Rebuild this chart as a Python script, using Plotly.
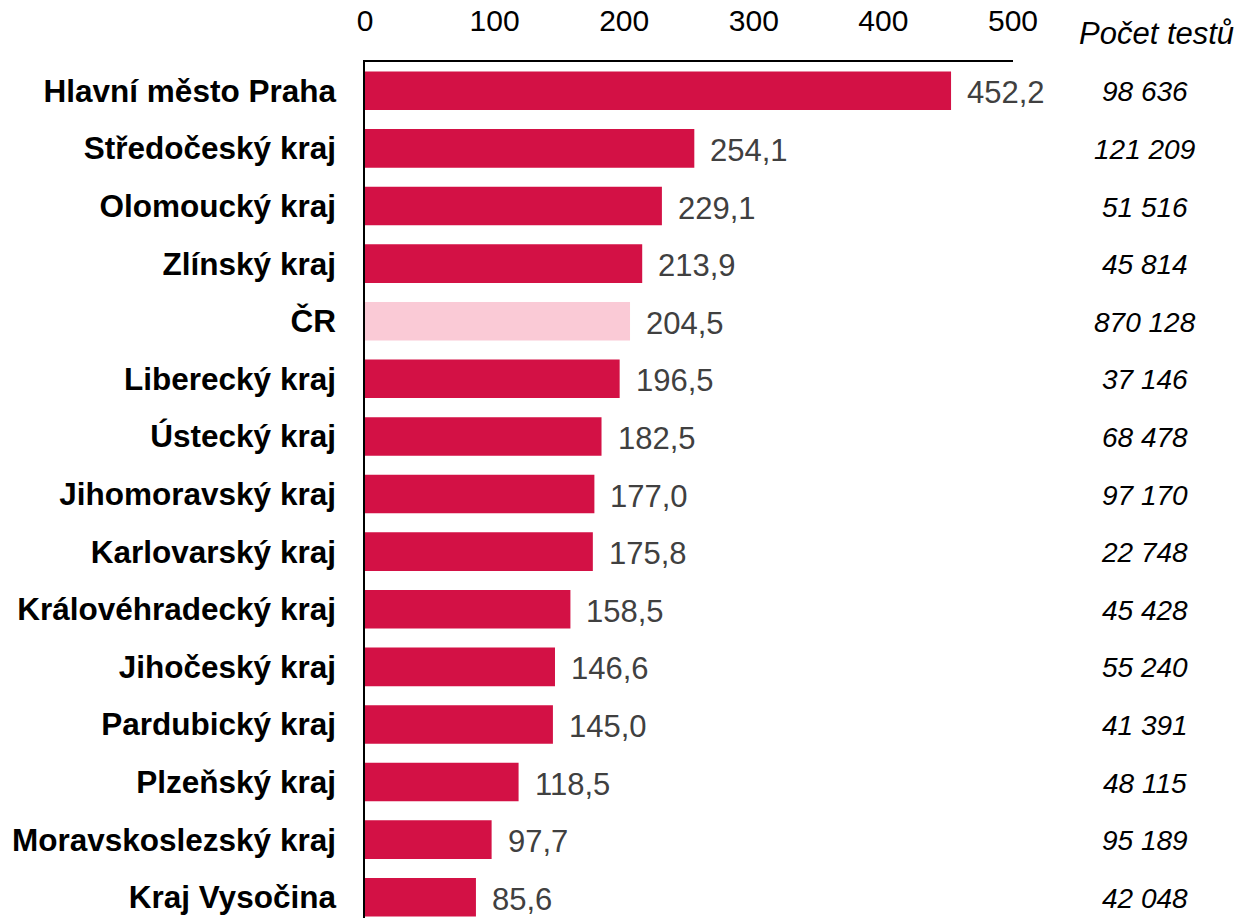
import plotly.graph_objects as go

regions = ["Hlavní město Praha", "Středočeský kraj", "Olomoucký kraj", "Zlínský kraj", "ČR",
           "Liberecký kraj", "Ústecký kraj", "Jihomoravský kraj", "Karlovarský kraj",
           "Královéhradecký kraj", "Jihočeský kraj", "Pardubický kraj", "Plzeňský kraj",
           "Moravskoslezský kraj", "Kraj Vysočina"]
values = [452.2, 254.1, 229.1, 213.9, 204.5, 196.5, 182.5, 177.0, 175.8, 158.5, 146.6, 145.0, 118.5, 97.7, 85.6]
tests = ["98 636", "121 209", "51 516", "45 814", "870 128", "37 146", "68 478", "97 170", "22 748",
         "45 428", "55 240", "41 391", "48 115", "95 189", "42 048"]
x_ticks = [0, 100, 200, 300, 400, 500]
header = "Počet testů"
highlight = "ČR"

RED = "#D31145"
PINK = "#FACAD6"
FONT = "Liberation Sans, Arial, sans-serif"

colors = [PINK if r == highlight else RED for r in regions]

fig = go.Figure()
fig.add_trace(go.Bar(
    y=regions, x=values, orientation="h",
    marker=dict(color=colors, line=dict(width=0)),
    width=0.67, hoverinfo="skip",
))

for r, v in zip(regions, values):
    fig.add_annotation(x=v, y=r, xref="x", yref="y", text=f"{v:.1f}".replace(".", ","),
                       showarrow=False, xanchor="left", xshift=14, yshift=-2,
                       font=dict(family=FONT, size=31, color="#404040"))

for r, t in zip(regions, tests):
    fig.add_annotation(x=1.203, y=r, xref="paper", yref="y", text=t,
                       showarrow=False, xanchor="center", yshift=-1,
                       font=dict(family=FONT, size=28, color="#000000", style="italic"))

fig.add_annotation(x=1.2207, y=1, xref="paper", yref="paper", yanchor="middle",
                   yshift=29, text=header, showarrow=False, xanchor="center",
                   font=dict(family=FONT, size=31, color="#000000", style="italic"))

fig.update_layout(
    width=1239, height=918,
    margin=dict(l=365, r=226, t=62, b=0),
    plot_bgcolor="white", paper_bgcolor="white",
    showlegend=False,
    font=dict(family=FONT, color="#000000"),
    xaxis=dict(side="top", range=[0, 500], tickvals=x_ticks, ticktext=[str(t) for t in x_ticks],
               showgrid=False, zeroline=False, showline=True, linecolor="#000000", linewidth=1.5,
               ticks="", ticklabelstandoff=17, tickfont=dict(family=FONT, size=30, color="#000000"),
               fixedrange=True),
    yaxis=dict(range=[14.36, -0.5], showgrid=False, zeroline=False, showline=True,
               linecolor="#000000", linewidth=1.5, ticks="", ticklabelstandoff=21,
               tickfont=dict(family=FONT, size=31.5, color="#000000", weight="bold"),
               fixedrange=True),
)

fig.write_html("out.html", config={"displayModeBar": False},
               post_script="document.body.style.margin='0';document.body.style.overflow='hidden';")
